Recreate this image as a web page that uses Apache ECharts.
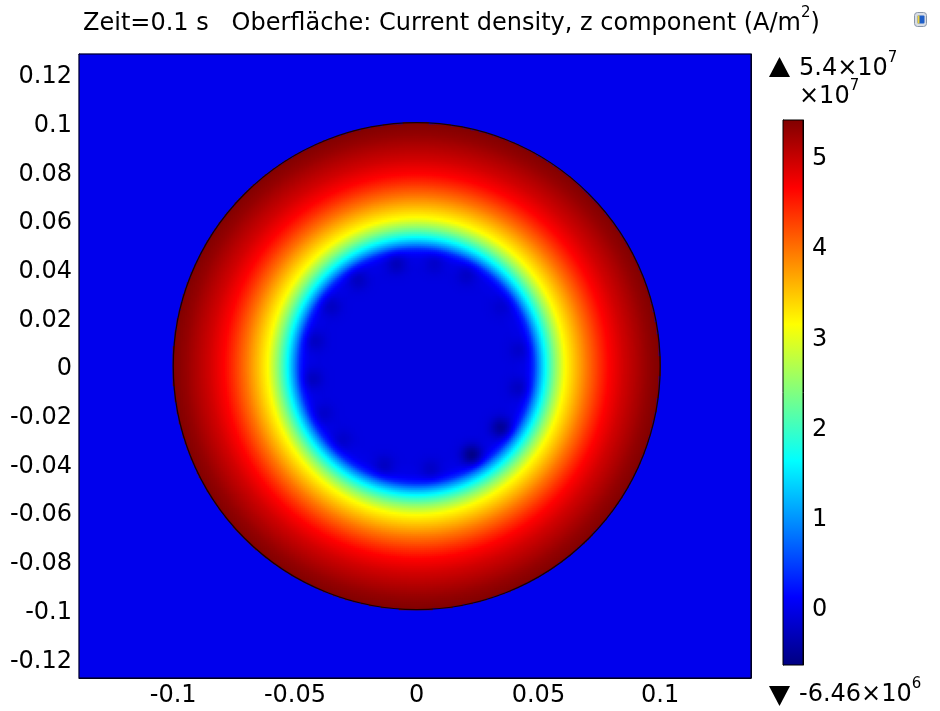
<!DOCTYPE html>
<html>
<head>
<meta charset="utf-8">
<script src="https://cdn.jsdelivr.net/npm/echarts@6/dist/echarts.min.js"></script>
<style>
  html, body { margin: 0; padding: 0; background: #ffffff; }
  #chart { width: 940px; height: 711px; }
</style>
</head>
<body>
<div id="chart"></div>
<script>
// ---- Data -------------------------------------------------------------
// Solution time (s)
const timeValue = 0.1;

// Radial profile of the current density Jz in the conductor (units of 1e7 A/m^2)
const profileRadius = [0, 0.040, 0.044, 0.046, 0.048, 0.050, 0.052, 0.054, 0.057,
                       0.061, 0.065, 0.070, 0.075, 0.079, 0.085, 0.090, 0.095, 0.100];
const profileJz     = [-0.07, -0.07, -0.03, 0.08, 0.35, 0.90, 1.40, 1.85, 2.45,
                       3.13, 3.50, 3.95, 4.35, 4.64, 4.92, 5.10, 5.28, 5.40];

// Conductor radius (m) and the field value in the surrounding air
const conductorRadius = 0.1;
const ambientJz = 0;

// Small negative mesh dips on the ring near r = 0.043 m
const dipRadius = 0.043;
const dipAngleDeg = [9, 35, 61, 80, 101, 124, 145, 166, 187, 207, 225, 252, 278, 302, 324, 348];
const dipJz       = [-0.15, -0.12, -0.18, -0.15, -0.25, -0.22, -0.2, -0.2, -0.22, -0.15, -0.15, -0.2, -0.18, -0.55, -0.45, -0.2];

// Axis ranges and tick labels
const xRange = [-0.1387, 0.1373];
const yRange = [-0.1281, 0.1282];
const xTicks = [-0.1, -0.05, 0, 0.05, 0.1];
const yTicks = [-0.12, -0.1, -0.08, -0.06, -0.04, -0.02, 0, 0.02, 0.04, 0.06, 0.08, 0.1, 0.12];

// Color range (units of 1e7 A/m^2) and color bar ticks
const colorMin = -0.646;
const colorMax = 5.4;
const colorTicks = [0, 1, 2, 3, 4, 5];

// Jet color table (evenly spaced stops)
const jetColors = ['#000080', '#0000ff', '#0080ff', '#00ffff', '#80ff80',
                   '#ffff00', '#ff8000', '#ff0000', '#800000'];

// ---- Field sampling on the plot grid -----------------------------------
const NX = 336, NY = 312;
const dx = (xRange[1] - xRange[0]) / NX;
const dy = (yRange[1] - yRange[0]) / NY;

function radialJz(r) {
  if (r > conductorRadius) return ambientJz;
  for (let k = 1; k < profileRadius.length; k++) {
    if (r <= profileRadius[k]) {
      const r0 = profileRadius[k - 1], r1 = profileRadius[k];
      const f = (r - r0) / (r1 - r0);
      return profileJz[k - 1] + f * (profileJz[k] - profileJz[k - 1]);
    }
  }
  return profileJz[profileJz.length - 1];
}

const dipSigma = 0.003;
const dipCenters = dipAngleDeg.map(a => [dipRadius * Math.cos(a * Math.PI / 180),
                                          dipRadius * Math.sin(a * Math.PI / 180)]);

function fieldJz(x, y) {
  const r = Math.sqrt(x * x + y * y);
  let v = radialJz(r);
  if (r > 0.03 && r < 0.056) {
    for (let k = 0; k < dipCenters.length; k++) {
      const ddx = x - dipCenters[k][0], ddy = y - dipCenters[k][1];
      const d2 = ddx * ddx + ddy * ddy;
      v += dipJz[k] * Math.exp(-d2 / (2 * dipSigma * dipSigma));
    }
  }
  return v;
}

const xCats = [], yCats = [];
for (let i = 0; i < NX; i++) xCats.push((xRange[0] + (i + 0.5) * dx).toFixed(5));
for (let j = 0; j < NY; j++) yCats.push((yRange[0] + (j + 0.5) * dy).toFixed(5));

const cells = [];
for (let i = 0; i < NX; i++) {
  const x = xRange[0] + (i + 0.5) * dx;
  for (let j = 0; j < NY; j++) {
    const y = yRange[0] + (j + 0.5) * dy;
    cells.push([i, j, fieldJz(x, y)]);
  }
}

// ---- Chart ------------------------------------------------------------
const FONT = 'DejaVu Sans';
const FS = 24;
const tickFmt = v => String(+Number(v).toFixed(3));
// vertical-axis labels: nudge the digits down so they sit centred on the tick
const vLabelFmt = v => '{n|' + tickFmt(v) + '}';
const vLabelRich = { n: { fontFamily: FONT, fontSize: FS, color: '#000', padding: [6, 0, 0, 0] } };

const chart = echarts.init(document.getElementById('chart'), null, { renderer: 'canvas' });

const plainValueAxis = (extra) => Object.assign({
  type: 'value',
  axisLine: { show: true, onZero: false, lineStyle: { color: '#000', width: 1 } },
  splitLine: { show: false },
  axisTick: { show: true, inside: true, length: 6, lineStyle: { color: '#000', width: 1 } },
  axisLabel: { show: false }
}, extra);

const richSup = {
  t: { fontFamily: FONT, fontSize: FS, fill: '#000', lineHeight: 30, verticalAlign: 'bottom' },
  s: { fontFamily: FONT, fontSize: 15, fill: '#000', lineHeight: 20, verticalAlign: 'top' }
};

const option = {
  animation: false,
  backgroundColor: '#ffffff',
  grid: [
    { left: 79, top: 54, width: 672, height: 624, show: true, borderColor: '#000', borderWidth: 1, backgroundColor: 'transparent', z: 10 },
    { left: 783, top: 120, width: 20, height: 545 }
  ],
  xAxis: [
    { gridIndex: 0, type: 'category', data: xCats, show: false, boundaryGap: true },
    plainValueAxis({
      gridIndex: 0, position: 'bottom', min: xRange[0], max: xRange[1],
      axisTick: { show: true, inside: true, length: 6, customValues: xTicks, lineStyle: { color: '#000' } },
      axisLabel: { show: true, customValues: xTicks, formatter: tickFmt, fontFamily: FONT, fontSize: FS, color: '#000', margin: 6 }
    }),
    plainValueAxis({
      gridIndex: 0, position: 'top', min: xRange[0], max: xRange[1],
      axisTick: { show: true, inside: true, length: 6, customValues: xTicks, lineStyle: { color: '#000' } }
    }),
    { gridIndex: 1, type: 'value', min: 0, max: 1, show: false }
  ],
  yAxis: [
    { gridIndex: 0, type: 'category', data: yCats, show: false, boundaryGap: true },
    plainValueAxis({
      gridIndex: 0, position: 'left', min: yRange[0], max: yRange[1],
      axisTick: { show: true, inside: true, length: 6, customValues: yTicks, lineStyle: { color: '#000' } },
      axisLabel: { show: true, customValues: yTicks, formatter: vLabelFmt, rich: vLabelRich, margin: 7 }
    }),
    plainValueAxis({
      gridIndex: 0, position: 'right', min: yRange[0], max: yRange[1],
      axisTick: { show: true, inside: true, length: 6, customValues: yTicks, lineStyle: { color: '#000' } }
    }),
    plainValueAxis({
      gridIndex: 1, position: 'left', min: colorMin, max: colorMax,
      axisTick: { show: true, inside: true, length: 4, customValues: colorTicks, lineStyle: { color: '#000' } }
    }),
    plainValueAxis({
      gridIndex: 1, position: 'right', min: colorMin, max: colorMax,
      axisTick: { show: true, inside: true, length: 4, customValues: colorTicks, lineStyle: { color: '#000' } },
      axisLabel: { show: true, customValues: colorTicks, formatter: vLabelFmt, rich: vLabelRich, margin: 9 }
    })
  ],
  visualMap: {
    type: 'continuous',
    show: false,
    min: colorMin,
    max: colorMax,
    dimension: 2,
    seriesIndex: 0,
    inRange: { color: jetColors }
  },
  series: [
    {
      type: 'heatmap',
      xAxisIndex: 0, yAxisIndex: 0,
      data: cells,
      progressive: 0,
      silent: true,
      itemStyle: { borderWidth: 0 },
      emphasis: { disabled: true }
    },
    {
      // conductor boundary
      type: 'custom',
      xAxisIndex: 1, yAxisIndex: 1,
      silent: true,
      z: 5,
      data: [[0, 0, conductorRadius]],
      renderItem: (params, api) => {
        const c = api.coord([api.value(0), api.value(1)]);
        const r = api.size([api.value(2), 0])[0];
        return {
          type: 'circle',
          shape: { cx: c[0], cy: c[1], r: r },
          style: { fill: 'none', stroke: '#1a0000', lineWidth: 1.3 }
        };
      }
    },
    {
      // color bar
      type: 'custom',
      xAxisIndex: 3, yAxisIndex: 3,
      silent: true,
      data: [[0, colorMin, colorMax]],
      renderItem: (params, api) => {
        const top = api.coord([0, api.value(2)]);
        const bot = api.coord([0, api.value(1)]);
        const w = api.size([1, 0])[0];
        const stops = jetColors.map((c, k) => ({ offset: k / (jetColors.length - 1), color: c }));
        return {
          type: 'rect',
          shape: { x: top[0], y: top[1], width: w, height: bot[1] - top[1] },
          style: {
            fill: new echarts.graphic.LinearGradient(0, 1, 0, 0, stops),
            stroke: '#000', lineWidth: 1
          }
        };
      }
    }
  ],
  graphic: [
    {
      type: 'text', left: 83, top: 6,
      style: {
        text: '{t|Zeit=' + timeValue + ' s   Oberfläche: Current density, z component (A/m}{s|2}{t|)}',
        rich: richSup
      }
    },
    {
      type: 'polygon',
      shape: { points: [[769, 77], [790, 77], [779.5, 57]] },
      style: { fill: '#000' }
    },
    {
      type: 'text', left: 799, top: 51,
      style: { text: '{t|' + colorMax + '×10}{s|7}', rich: richSup }
    },
    {
      type: 'text', left: 799, top: 79,
      style: { text: '{t|×10}{s|7}', rich: richSup }
    },
    {
      type: 'polygon',
      shape: { points: [[769, 686], [790, 686], [779.5, 706]] },
      style: { fill: '#000' }
    },
    {
      type: 'text', left: 799, top: 677,
      style: { text: '{t|' + (colorMin * 10).toFixed(2) + '×10}{s|6}', rich: richSup }
    },
    {
      // small toolbar icon
      type: 'group', left: 914, top: 12,
      children: [
        { type: 'rect', shape: { x: 0, y: 0, width: 12, height: 14, r: 3 }, style: { fill: '#d8dde6', stroke: '#8a96a8', lineWidth: 1 } },
        { type: 'rect', shape: { x: 3, y: 3, width: 7, height: 8, r: 1 }, style: { fill: '#1f5fc8' } },
        { type: 'rect', shape: { x: 3, y: 3, width: 2, height: 8 }, style: { fill: '#f2d23c' } }
      ]
    }
  ]
};

chart.setOption(option);
</script>
</body>
</html>
